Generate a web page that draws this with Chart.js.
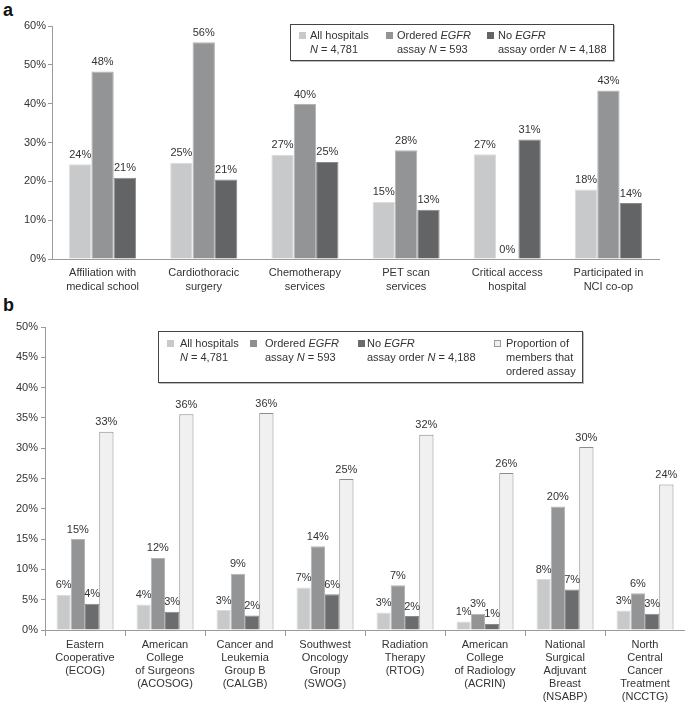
<!DOCTYPE html>
<html>
<head>
<meta charset="utf-8">
<script src="https://cdn.jsdelivr.net/npm/chart.js@4"></script>
<style>
  body { margin: 0; background: #fff; font-family: "Liberation Sans", Arial, sans-serif; color: #333; }
  #wrap { position: relative; width: 685px; height: 704px; overflow: hidden; }
  canvas { position: absolute; left: 0; }
  .panel { position: absolute; left: 3px; font-weight: bold; font-size: 18px; color: #111; }
  .legend { position: absolute; border: 1px solid #444; box-shadow: 1px 1px 0 #bbb; background: #fff; font-size: 11px; line-height: 14px; }
  .sw { position: absolute; width: 7px; height: 7px; box-sizing: border-box; }
  .txt { position: absolute; white-space: nowrap; }
</style>
</head>
<body>
<div id="wrap">
  <div class="panel" style="top:0px">a</div>
  <div class="panel" style="top:295px">b</div>
  <canvas id="chartA" width="685" height="300" style="top:0"></canvas>
  <canvas id="chartB" width="685" height="404" style="top:300px"></canvas>
  <div class="legend" id="legA" style="left:290px;top:24px;width:322px;height:35px"></div>
  <div class="legend" id="legB" style="left:158px;top:331px;width:423px;height:50px"></div>
</div>
<script>
// panel a data
const catsA = [['Affiliation with', 'medical school'], ['Cardiothoracic', 'surgery'], ['Chemotherapy', 'services'],
  ['PET scan', 'services'], ['Critical access', 'hospital'], ['Participated in', 'NCI co-op']];
const allHospA = [24.4, 24.8, 26.8, 14.7, 27.0, 17.9];
const orderedA = [48.3, 55.8, 39.9, 28.0, 0, 43.4];
const noOrderA = [20.9, 20.5, 25.0, 12.7, 30.8, 14.4];
const ticksA = [0, 10, 20, 30, 40, 50, 60];

// panel b data
const catsB = [['Eastern', 'Cooperative', '(ECOG)'], ['American', 'College', 'of Surgeons', '(ACOSOG)'],
  ['Cancer and', 'Leukemia', 'Group B', '(CALGB)'], ['Southwest', 'Oncology', 'Group', '(SWOG)'],
  ['Radiation', 'Therapy', '(RTOG)'], ['American', 'College', 'of Radiology', '(ACRIN)'],
  ['National', 'Surgical', 'Adjuvant', 'Breast', '(NSABP)'], ['North', 'Central', 'Cancer', 'Treatment', '(NCCTG)']];
const allHospB = [5.8, 4.2, 3.3, 7.0, 2.9, 1.4, 8.4, 3.2];
const orderedB = [15.0, 11.9, 9.3, 13.8, 7.4, 2.7, 20.4, 6.05];
const noOrderB = [4.35, 3.0, 2.4, 5.9, 2.3, 1.0, 6.7, 2.7];
const propB = [32.7, 35.6, 35.8, 24.9, 32.2, 25.9, 30.2, 24.0];
const ticksB = [0, 5, 10, 15, 20, 25, 30, 35, 40, 45, 50];

const legendA = [
  ['All hospitals', '<i>N</i> = 4,781'],
  ['Ordered <i>EGFR</i>', 'assay <i>N</i> = 593'],
  ['No <i>EGFR</i>', 'assay order <i>N</i> = 4,188']
];
const legendB = [
  ['All hospitals', '<i>N</i> = 4,781'],
  ['Ordered <i>EGFR</i>', 'assay <i>N</i> = 593'],
  ['No <i>EGFR</i>', 'assay order <i>N</i> = 4,188'],
  ['Proportion of', 'members that', 'ordered assay']
];

const FONT = '"Liberation Sans", Arial, sans-serif';
const light = '#c8c9cb', mid = '#939496', dark = '#636466', prop = '#f0f0f0';

// value labels on top of bars
const valueLabels = {
  id: 'valueLabels',
  afterDatasetsDraw(chart) {
    const ctx = chart.ctx;
    ctx.save();
    ctx.font = '11px ' + FONT;
    ctx.fillStyle = '#333';
    ctx.textAlign = 'center';
    ctx.textBaseline = 'bottom';
    chart.data.datasets.forEach((ds, i) => {
      chart.getDatasetMeta(i).data.forEach((bar, j) => {
        ctx.fillText(Math.round(ds.data[j]) + '%', bar.x, bar.y - 4);
      });
    });
    ctx.restore();
  }
};

function makeChart(id, labels, datasets, ticks, opts) {
  return new Chart(document.getElementById(id), {
    type: 'bar',
    data: { labels: labels, datasets: datasets },
    plugins: [valueLabels],
    options: {
      responsive: false,
      animation: false,
      layout: { padding: { top: opts.top, right: opts.right, left: 0, bottom: 0 } },
      plugins: { legend: { display: false }, tooltip: { enabled: false } },
      datasets: { bar: { categoryPercentage: opts.cat, barPercentage: 1 } },
      scales: {
        x: {
          afterFit: (a) => { a.height = opts.xh; },
          border: { display: true, color: '#9a9a9a' },
          grid: { drawOnChartArea: false, drawTicks: opts.xTicks, tickLength: 6, color: '#9a9a9a' },
          ticks: { color: '#333', font: { size: 11, family: FONT, lineHeight: opts.lh }, padding: opts.xPad, maxRotation: 0, autoSkip: false }
        },
        y: {
          min: 0,
          max: ticks[ticks.length - 1],
          afterFit: (a) => { a.width = opts.yw; },
          afterBuildTicks: (a) => { a.ticks = ticks.map(v => ({ value: v })); },
          border: { display: true, color: '#9a9a9a' },
          grid: { drawOnChartArea: false, tickLength: 4, color: '#9a9a9a' },
          ticks: { color: '#333', font: { size: 11, family: FONT }, padding: opts.yPad, callback: v => v + '%' }
        }
      }
    }
  });
}

makeChart('chartA', catsA, [
  { label: 'All hospitals', data: allHospA, backgroundColor: light, borderColor: '#dcdcdc', borderWidth: 1 },
  { label: 'Ordered EGFR', data: orderedA, backgroundColor: mid, borderColor: '#b4b4b4', borderWidth: 1 },
  { label: 'No EGFR', data: noOrderA, backgroundColor: dark, borderColor: '#8a8a8a', borderWidth: 1 }
], ticksA, { top: 26, right: 26, cat: 0.663, xh: 41, yw: 52, xTicks: false, xPad: 7, yPad: 2, lh: 1.27 });

makeChart('chartB', catsB, [
  { label: 'All hospitals', data: allHospB, backgroundColor: light, borderColor: '#dcdcdc', borderWidth: 1 },
  { label: 'Ordered EGFR', data: orderedB, backgroundColor: mid, borderColor: '#b4b4b4', borderWidth: 1 },
  { label: 'No EGFR', data: noOrderB, backgroundColor: '#6b6c6e', borderColor: '#8a8a8a', borderWidth: 1 },
  { label: 'Proportion', data: propB, backgroundColor: prop, borderColor: '#8c8c8c', borderWidth: 1 }
], ticksB, { top: 27, right: 0, cat: 0.7125, xh: 74, yw: 45, xTicks: true, xPad: 2, yPad: 3, lh: 1.2 });

// html legends (italic N and EGFR)
function buildLegend(el, items, colors, pos) {
  items.forEach((lines, i) => {
    const sw = document.createElement('div');
    sw.className = 'sw';
    sw.style.left = pos[i][0] + 'px';
    sw.style.top = (pos[i][2]) + 'px';
    sw.style.background = colors[i][0];
    if (colors[i][1]) sw.style.border = '1px solid ' + colors[i][1];
    el.appendChild(sw);
    const t = document.createElement('div');
    t.className = 'txt';
    t.style.left = pos[i][1] + 'px';
    t.style.top = (pos[i][2] - 4) + 'px';
    t.innerHTML = lines.join('<br>');
    el.appendChild(t);
  });
}
buildLegend(document.getElementById('legA'), legendA,
  [[light], [mid], [dark]],
  [[8, 19, 7], [95, 106, 7], [196, 207, 7]]);
buildLegend(document.getElementById('legB'), legendB,
  [[light], ['#8f8f91'], ['#6b6c6e'], [prop, '#999']],
  [[8, 21, 8], [91, 106, 8], [199, 208, 8], [335, 347, 8]]);
</script>
</body>
</html>
